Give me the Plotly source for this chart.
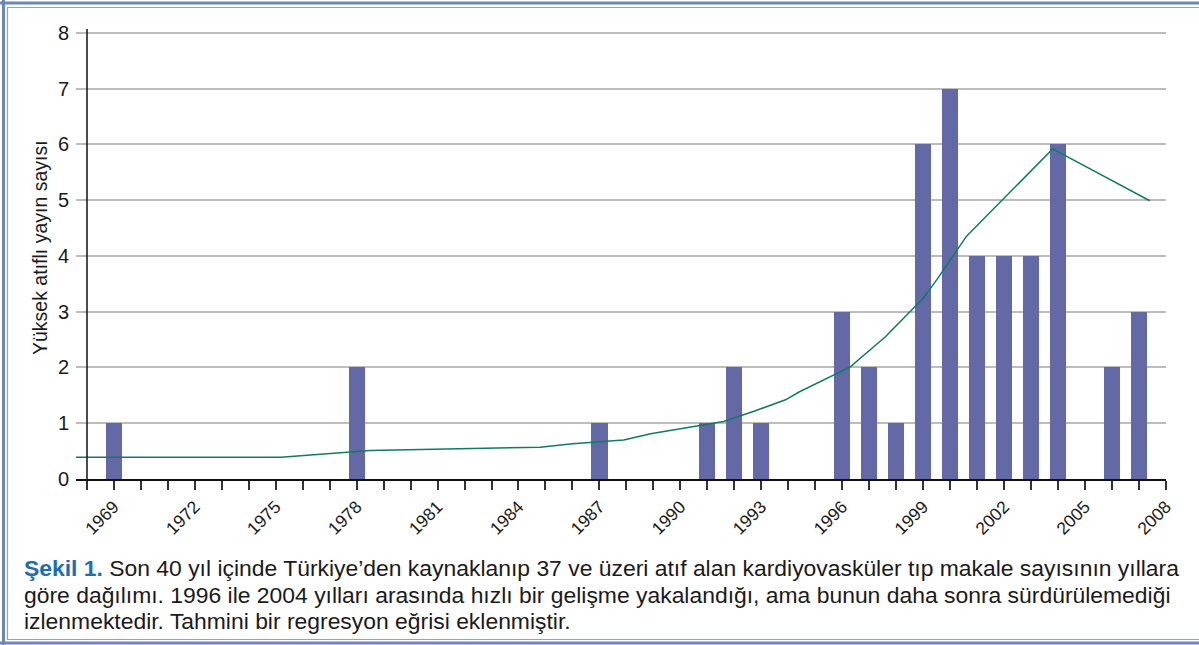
import plotly.graph_objects as go

# ---------------- data ----------------
bar_years = [1969, 1978, 1987, 1991, 1992, 1993, 1996, 1997, 1998, 1999, 2000, 2001, 2002, 2003, 2004, 2006, 2007]
bar_counts = [1, 2, 1, 1, 2, 1, 3, 2, 1, 6, 7, 4, 4, 4, 6, 2, 3]

fit_years = [1967.6, 1975.2, 1978.5, 1979.6, 1982.9, 1984.8, 1986.0, 1987.0, 1987.9, 1988.9,
             1990.0, 1991.1, 1991.6, 1992.7, 1993.9, 1994.4, 1996.3, 1997.6, 1999.0, 1999.5,
             2000.6, 2003.8, 2007.4]
fit_values = [0.39, 0.39, 0.51, 0.52, 0.54, 0.57, 0.63, 0.66, 0.70, 0.81,
              0.90, 0.99, 1.03, 1.21, 1.42, 1.56, 2.01, 2.55, 3.24, 3.57,
              4.35, 5.92, 4.99]

y_title = "Yüksek atıflı yayın sayısı"
caption_lines = [
    "<b><span style='color:#1c6db3'>Şekil 1.</span></b> Son 40 yıl içinde Türkiye’den kaynaklanıp 37 ve üzeri atıf alan kardiyovasküler tıp makale sayısının yıllara",
    "göre dağılımı. 1996 ile 2004 yılları arasında hızlı bir gelişme yakalandığı, ama bunun daha sonra sürdürülemediği",
    "izlenmektedir. Tahmini bir regresyon eğrisi eklenmiştir.",
]

# ---------------- layout geometry ----------------
W, H = 1199, 645
L, R, T, B = 76, 33, 29, 166
PW, PH = W - L - R, H - T - B


def px(x):
    return (x - L) / PW


def py(y):
    return (H - B - y) / PH


FONT = "Liberation Sans, Arial, Helvetica, sans-serif"

fig = go.Figure()
fig.add_trace(go.Bar(x=bar_years, y=bar_counts, width=0.6,
                     marker=dict(color="#6269a6", line=dict(width=0)),
                     showlegend=False))
fig.add_trace(go.Scatter(x=fit_years, y=fit_values, mode="lines",
                         line=dict(color="#137a62", width=1.5),
                         showlegend=False))

shapes = []
# y axis line at 1968
shapes.append(dict(type="line", xref="paper", yref="paper",
                   x0=px(87), x1=px(87), y0=0, y1=1,
                   line=dict(color="#111", width=1.5), layer="above"))
# frame
thick = "#6b88bb"
thin = "#8aa4cc"
shapes += [
    dict(type="line", xref="paper", yref="paper", x0=px(3.5), x1=px(3.5), y0=py(0), y1=py(H),
         line=dict(color=thick, width=3)),
    dict(type="line", xref="paper", yref="paper", x0=px(7.5), x1=px(7.5), y0=py(7), y1=py(640),
         line=dict(color=thin, width=1.2)),
    dict(type="line", xref="paper", yref="paper", x0=px(0), x1=px(W), y0=py(3), y1=py(3),
         line=dict(color=thick, width=3)),
    dict(type="line", xref="paper", yref="paper", x0=px(7), x1=px(W), y0=py(7.5), y1=py(7.5),
         line=dict(color=thin, width=1.2)),
    dict(type="line", xref="paper", yref="paper", x0=px(7), x1=px(W), y0=py(639.5), y1=py(639.5),
         line=dict(color=thin, width=1.2)),
    dict(type="line", xref="paper", yref="paper", x0=px(0), x1=px(W), y0=py(643), y1=py(643),
         line=dict(color=thick, width=3)),
]

annotations = []
for i, (txt, yc) in enumerate(zip(caption_lines, [568, 595, 621])):
    annotations.append(dict(text=txt, xref="paper", yref="paper", x=px(22), y=py(yc),
                            xanchor="left", yanchor="middle", showarrow=False, align="left",
                            font=dict(family=FONT, size=22.9, color="#1a1a1a")))
annotations.append(dict(text=y_title, xref="paper", yref="paper", x=px(40), y=py(248),
                        xanchor="center", yanchor="middle", showarrow=False, textangle=-90,
                        font=dict(family=FONT, size=19.5, color="#1a1a1a")))

fig.update_layout(
    width=W, height=H,
    margin=dict(l=L, r=R, t=T, b=B, pad=0),
    paper_bgcolor="white", plot_bgcolor="white",
    bargap=0,
    shapes=shapes,
    annotations=annotations,
    font=dict(family=FONT, color="#1a1a1a"),
    xaxis=dict(range=[1967.6, 2008], tickmode="linear", tick0=1969, dtick=3,
               tickangle=-45, tickfont=dict(size=17.5, family=FONT, color="#1a1a1a"),
               ticks="outside", ticklen=9, tickwidth=1.5, tickcolor="#333",
               minor=dict(ticks="outside", ticklen=9, tickwidth=1.5, tickcolor="#333",
                          tick0=1968, dtick=1, showgrid=False),
               showgrid=False, zeroline=False, showline=True, linecolor="#111", linewidth=1.5),
    yaxis=dict(range=[0, 8.07], tickmode="linear", tick0=0, dtick=1,
               tickfont=dict(size=20, family=FONT, color="#1a1a1a"),
               ticks="", ticklabelstandoff=6,
               showgrid=True, gridcolor="#bdbdbd", gridwidth=1.5,
               zeroline=False, showline=False),
)

fig.write_html("out.html",
               config={"displayModeBar": False},
               post_script="document.body.style.margin='0';document.body.style.padding='0';"
                           "document.body.style.overflow='hidden';")
